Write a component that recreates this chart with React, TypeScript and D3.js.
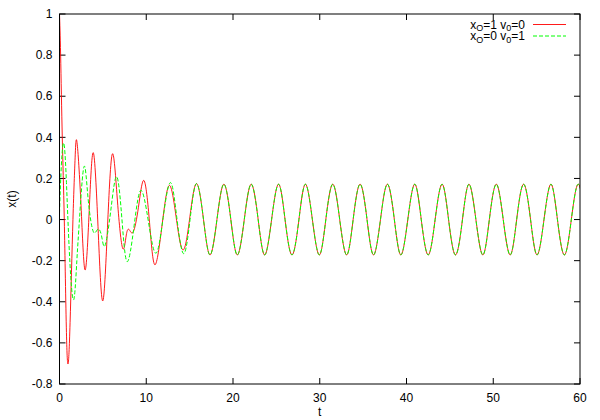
import { scaleLinear, line, curveNatural } from "d3";

// transient part of each solution: [t, x]
const redTransient: [number, number][] = [
  [0, 1], [0.13, 0.8], [0.32, 0.4], [0.55, 0], [0.8, -0.55], [1.0, -0.7],
  [1.22, -0.5], [1.55, 0], [1.8, 0.3], [2.02, 0.375], [2.48, 0.07], [2.94, -0.245],
  [3.42, 0.04], [3.9, 0.325], [4.44, -0.035], [4.98, -0.396], [5.53, -0.04],
  [6.09, 0.319], [6.68, 0.09], [7.28, -0.14], [7.7, -0.075], [8.05, -0.05],
  [8.5, -0.06], [9.1, 0.06], [9.74, 0.19], [10.38, -0.015], [11.0, -0.22],
  [11.83, -0.025], [12.65, 0.166], [13.45, 0.01], [14.25, -0.148], [15.03, 0.013],
];

const greenTransient: [number, number][] = [
  [0, 0.03], [0.22, 0.27], [0.52, 0.368], [0.8, 0.18], [1.0, -0.03], [1.3, -0.28],
  [1.67, -0.386], [2.0, -0.2], [2.3, 0.0], [2.82, 0.257], [3.3, 0.1], [3.9, -0.059],
  [4.4, -0.047], [4.85, -0.08], [5.24, -0.127], [5.9, 0.04], [6.59, 0.209],
  [7.2, 0.0], [7.8, -0.205], [8.6, -0.03], [9.38, 0.142], [10.25, -0.01],
  [11.12, -0.164], [11.95, 0.01], [12.8, 0.18], [13.55, 0.0], [14.32, -0.166],
  [15.05, 0.0],
];

// steady state, both curves lie on top of each other from here on
// (last point lies just past the frame and is clipped)
const steadyState: [number, number][] = [
  [15.8, 0.175], [16.6, 0], [17.35, -0.172], [18.15, 0], [18.95, 0.172], [19.75, 0],
  [20.5, -0.172], [21.3, 0], [22.1, 0.172], [22.9, 0], [23.65, -0.172], [24.45, 0],
  [25.25, 0.172], [26.0, 0], [26.8, -0.172], [27.6, 0], [28.35, 0.172], [29.15, 0],
  [29.95, -0.172], [30.7, 0], [31.5, 0.172], [32.3, 0], [33.1, -0.172], [33.85, 0],
  [34.65, 0.172], [35.45, 0], [36.2, -0.172], [37.0, 0], [37.8, 0.172], [38.6, 0],
  [39.35, -0.172], [40.15, 0], [40.95, 0.172], [41.7, 0], [42.5, -0.172], [43.3, 0],
  [44.1, 0.172], [44.85, 0], [45.65, -0.172], [46.45, 0], [47.2, 0.172], [48.0, 0],
  [48.8, -0.172], [49.55, 0], [50.35, 0.172], [51.15, 0], [51.95, -0.172], [52.7, 0],
  [53.5, 0.172], [54.3, 0], [55.05, -0.172], [55.85, 0], [56.65, 0.172], [57.4, 0],
  [58.2, -0.172], [59.0, 0], [59.8, 0.172], [60.6, 0],
];

const xTicks = [0, 10, 20, 30, 40, 50, 60];
const yTicks = [-0.8, -0.6, -0.4, -0.2, 0, 0.2, 0.4, 0.6, 0.8, 1];
const legend = [
  { x0: "1", v0: "0", color: "#ff0000", dash: undefined },
  { x0: "0", v0: "1", color: "#00ff00", dash: "4,2" },
];

const W = 600;
const H = 420;
const margin = { left: 59.5, right: 20, top: 14, bottom: 36 };
const font = "'Liberation Sans', Arial, sans-serif";

export default function App() {
  const x = scaleLinear().domain([0, 60]).range([margin.left, W - margin.right]);
  const y = scaleLinear().domain([-0.8, 1]).range([H - margin.bottom, margin.top]);

  const path = line<[number, number]>()
    .x((d) => x(d[0]))
    .y((d) => y(d[1]))
    .curve(curveNatural);

  const red = path([...redTransient, ...steadyState]) || "";
  const green = path([...greenTransient, ...steadyState]) || "";

  const x0 = x(0), x1 = x(60), y0 = y(-0.8), y1 = y(1);
  const tl = 6;
  const fmt = (v: number) => String(+v.toFixed(1));

  return (
    <svg
      width={W}
      height={H}
      style={{ position: "absolute", left: 0, top: 0, background: "#fff" }}
      fontFamily={font}
      fontSize={12}
    >
      <defs>
        <clipPath id="plotclip">
          <rect x={x0} y={y1} width={x1 - x0} height={y0 - y1} />
        </clipPath>
      </defs>

      {/* ticks, mirrored on all four sides */}
      <g stroke="#000" strokeWidth={1}>
        {xTicks.map((t) => (
          <g key={"xt" + t}>
            <line x1={x(t)} x2={x(t)} y1={y0} y2={y0 - tl} />
            <line x1={x(t)} x2={x(t)} y1={y1} y2={y1 + tl} />
          </g>
        ))}
        {yTicks.map((t) => (
          <g key={"yt" + t}>
            <line x1={x0} x2={x0 + tl} y1={y(t)} y2={y(t)} />
            <line x1={x1} x2={x1 - tl} y1={y(t)} y2={y(t)} />
          </g>
        ))}
      </g>

      {xTicks.map((t) => (
        <text key={"xl" + t} x={x(t)} y={y0 + 18} textAnchor="middle" fill="#000">
          {t}
        </text>
      ))}
      {yTicks.map((t) => (
        <text key={"yl" + t} x={x0 - 7} y={y(t)} dy="0.35em" textAnchor="end" fill="#000">
          {fmt(t)}
        </text>
      ))}

      <text x={(x0 + x1) / 2} y={416} textAnchor="middle" fill="#000">t</text>
      <text
        transform={`translate(16,${(y0 + y1) / 2}) rotate(-90)`}
        textAnchor="middle"
        fill="#000"
      >
        x(t)
      </text>

      <g clipPath="url(#plotclip)" fill="none">
        <path d={red} stroke="#ff0000" strokeWidth={0.9} />
        <path d={green} stroke="#00ff00" strokeWidth={1} strokeDasharray="4,2" />
      </g>

      <rect x={x0} y={y1} width={x1 - x0} height={y0 - y1} fill="none" stroke="#000" strokeWidth={1} />

      {/* legend */}
      {legend.map((l, i) => (
        <g key={"lg" + i}>
          <text x={525} y={28.5 + i * 11.5} textAnchor="end" fill="#000">
            x<tspan fontSize={9} dy={2.5}>O</tspan>
            <tspan dy={-2.5}>={l.x0} v</tspan>
            <tspan fontSize={9} dy={2.5}>0</tspan>
            <tspan dy={-2.5}>={l.v0}</tspan>
          </text>
          <line
            x1={533}
            x2={566}
            y1={24.5 + i * 11.5}
            y2={24.5 + i * 11.5}
            stroke={l.color}
            strokeWidth={i === 0 ? 0.9 : 1}
            strokeDasharray={l.dash}
          />
        </g>
      ))}
    </svg>
  );
}
